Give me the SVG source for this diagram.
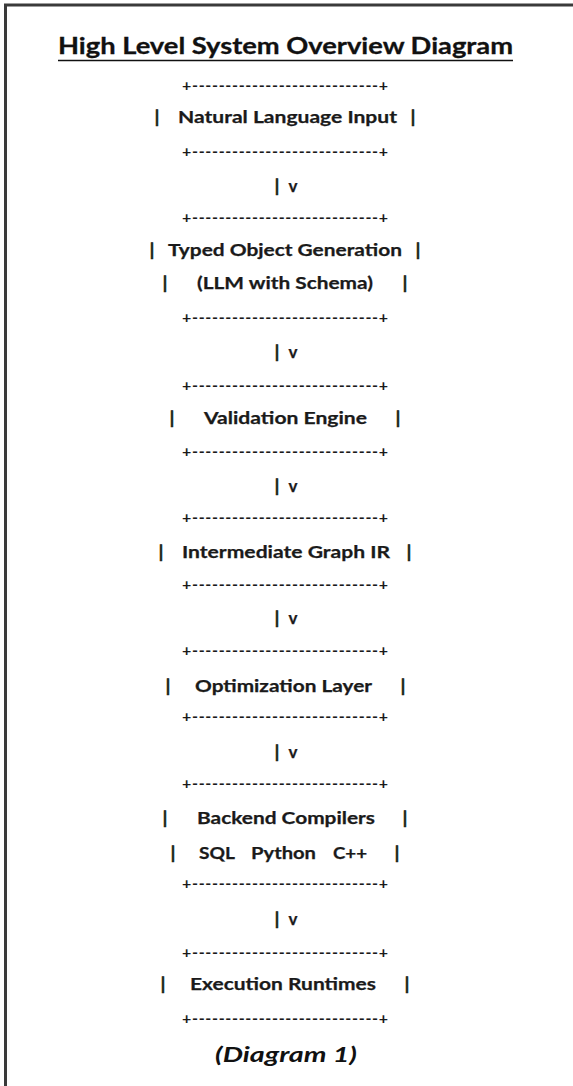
<svg xmlns="http://www.w3.org/2000/svg" width="573" height="1086" viewBox="0 0 573 1086">
  <style>
    .t { font-family: Lato, "Open Sans", "Liberation Sans", sans-serif; font-weight: 700; font-size: 17px; fill: #1a1a1a; stroke: #1a1a1a; stroke-width: 0.25; }
    .bar { font-family: Lato, "Open Sans", "Liberation Sans", sans-serif; font-weight: 700; font-size: 17px; fill: #1a1a1a; stroke: #1a1a1a; stroke-width: 0.7; text-anchor: middle; }
    .mid { text-anchor: middle; }
    .rule { font-family: Lato, "Open Sans", "Liberation Sans", sans-serif; font-weight: 700; font-size: 16px; fill: #1a1a1a; }
    .title { font-family: Lato, "Open Sans", "Liberation Sans", sans-serif; font-weight: 700; font-size: 23px; fill: #111; stroke: #111; stroke-width: 0.3; }
    .caption { font-family: Lato, "Open Sans", "Liberation Sans", sans-serif; font-weight: 700; font-style: italic; font-size: 21px; fill: #111; }
    .frame { stroke: #3a3a3a; stroke-width: 3; fill: none; }
  </style>

  <rect width="573" height="1086" fill="#ffffff"/>

  <!-- page frame: top and left edges -->
  <path class="frame" d="M5.5,1086 V5 H573"/>

  <!-- heading -->
  <g id="title">
    <text class="title" x="58" y="54" textLength="455" lengthAdjust="spacingAndGlyphs">High Level System Overview Diagram</text>
    <line x1="58" y1="60.5" x2="513" y2="60.5" stroke="#111" stroke-width="1.5"/>
  </g>

  <!-- boxes -->
  <g id="natural-language-input">
    <text class="rule" x="182" y="91" textLength="206" lengthAdjust="spacing">+----------------------------+</text>
    <text class="bar" x="157" y="123">|</text>
    <text class="t" x="178" y="123" textLength="219" lengthAdjust="spacingAndGlyphs">Natural Language Input</text>
    <text class="bar" x="413" y="123">|</text>
    <text class="rule" x="182" y="157" textLength="206" lengthAdjust="spacing">+----------------------------+</text>
  </g>

  <g id="typed-object-generation">
    <text class="rule" x="182" y="223" textLength="206" lengthAdjust="spacing">+----------------------------+</text>
    <text class="bar" x="152" y="256">|</text>
    <text class="t" x="168" y="256" textLength="234" lengthAdjust="spacingAndGlyphs">Typed Object Generation</text>
    <text class="bar" x="418" y="256">|</text>
    <text class="bar" x="165" y="289">|</text>
    <text class="t" x="197" y="289" textLength="176" lengthAdjust="spacingAndGlyphs">(LLM with Schema)</text>
    <text class="bar" x="405" y="289">|</text>
    <text class="rule" x="182" y="323" textLength="206" lengthAdjust="spacing">+----------------------------+</text>
  </g>

  <g id="validation-engine">
    <text class="rule" x="182" y="391" textLength="206" lengthAdjust="spacing">+----------------------------+</text>
    <text class="bar" x="172" y="424">|</text>
    <text class="t" x="204" y="424" textLength="163" lengthAdjust="spacingAndGlyphs">Validation Engine</text>
    <text class="bar" x="398" y="424">|</text>
    <text class="rule" x="182" y="457" textLength="206" lengthAdjust="spacing">+----------------------------+</text>
  </g>

  <g id="intermediate-graph-ir">
    <text class="rule" x="182" y="523" textLength="206" lengthAdjust="spacing">+----------------------------+</text>
    <text class="bar" x="161" y="558">|</text>
    <text class="t" x="182" y="558" textLength="208" lengthAdjust="spacingAndGlyphs">Intermediate Graph IR</text>
    <text class="bar" x="409" y="558">|</text>
    <text class="rule" x="182" y="590" textLength="206" lengthAdjust="spacing">+----------------------------+</text>
  </g>

  <g id="optimization-layer">
    <text class="rule" x="182" y="656" textLength="206" lengthAdjust="spacing">+----------------------------+</text>
    <text class="bar" x="168" y="692">|</text>
    <text class="t" x="195" y="692" textLength="177" lengthAdjust="spacingAndGlyphs">Optimization Layer</text>
    <text class="bar" x="403" y="692">|</text>
    <text class="rule" x="182" y="722" textLength="206" lengthAdjust="spacing">+----------------------------+</text>
  </g>

  <g id="backend-compilers">
    <text class="rule" x="182" y="789" textLength="206" lengthAdjust="spacing">+----------------------------+</text>
    <text class="bar" x="165" y="824">|</text>
    <text class="t" x="197" y="824" textLength="178" lengthAdjust="spacingAndGlyphs">Backend Compilers</text>
    <text class="bar" x="405" y="824">|</text>
    <text class="bar" x="173" y="859">|</text>
    <text class="t" x="199" y="859" textLength="36" lengthAdjust="spacingAndGlyphs">SQL</text>
    <text class="t" x="251" y="859" textLength="65" lengthAdjust="spacingAndGlyphs">Python</text>
    <text class="t" x="333" y="859" textLength="34" lengthAdjust="spacingAndGlyphs">C++</text>
    <text class="bar" x="397" y="859">|</text>
    <text class="rule" x="182" y="889" textLength="206" lengthAdjust="spacing">+----------------------------+</text>
  </g>

  <g id="execution-runtimes">
    <text class="rule" x="182" y="958" textLength="206" lengthAdjust="spacing">+----------------------------+</text>
    <text class="bar" x="163" y="990">|</text>
    <text class="t" x="190" y="990" textLength="186" lengthAdjust="spacingAndGlyphs">Execution Runtimes</text>
    <text class="bar" x="407" y="990">|</text>
    <text class="rule" x="182" y="1024" textLength="206" lengthAdjust="spacing">+----------------------------+</text>
  </g>

  <!-- downward links between stages -->
  <g id="connectors">
    <g><text class="bar" x="277" y="192">|</text><text class="t mid" x="293" y="192">v</text></g>
    <g><text class="bar" x="277" y="358">|</text><text class="t mid" x="293" y="358">v</text></g>
    <g><text class="bar" x="277" y="492">|</text><text class="t mid" x="293" y="492">v</text></g>
    <g><text class="bar" x="277" y="624">|</text><text class="t mid" x="293" y="624">v</text></g>
    <g><text class="bar" x="277" y="758">|</text><text class="t mid" x="293" y="758">v</text></g>
    <g><text class="bar" x="277" y="925">|</text><text class="t mid" x="293" y="925">v</text></g>
  </g>

  <g id="caption">
    <text class="caption" x="215" y="1062" textLength="142" lengthAdjust="spacingAndGlyphs">(Diagram 1)</text>
  </g>
</svg>
